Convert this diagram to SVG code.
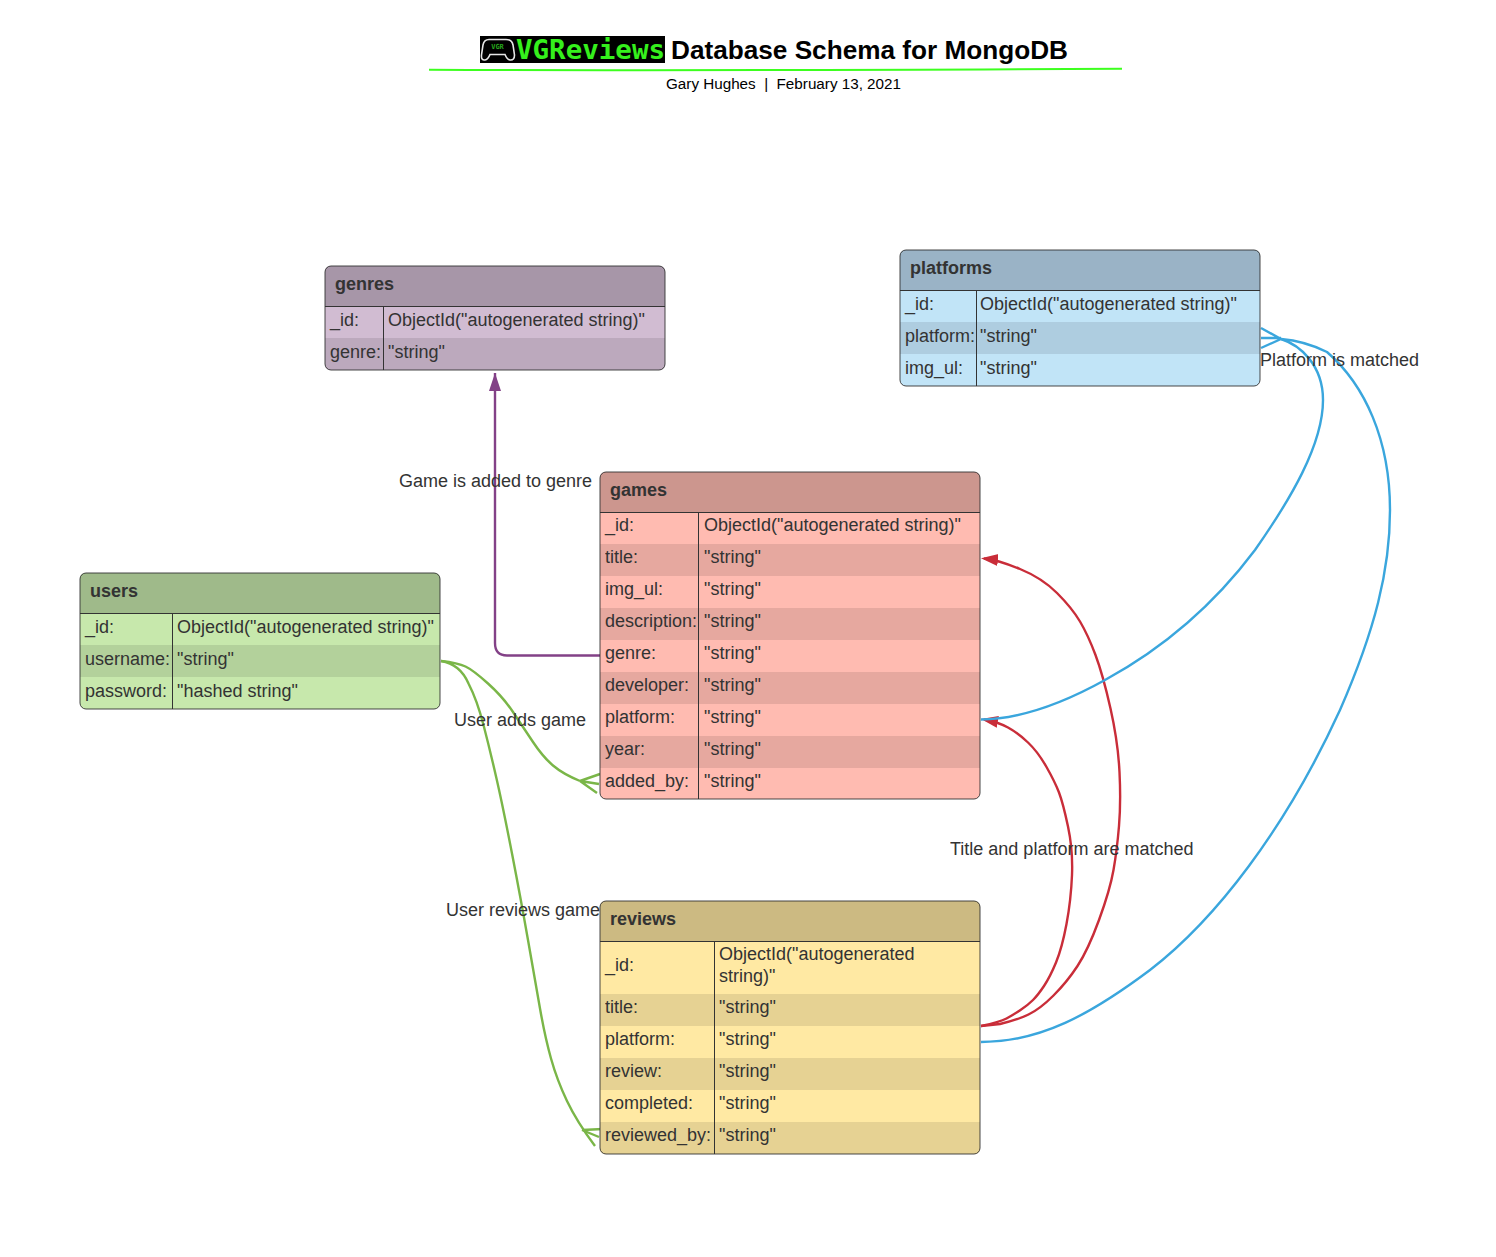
<svg xmlns="http://www.w3.org/2000/svg" width="1496" height="1257" viewBox="0 0 1496 1257">
<style>
text{font-family:"Liberation Sans",Arial,sans-serif;font-size:18px;fill:#333;opacity:.999}
.h{font-weight:700;fill:#333}
.o{fill:none;stroke:#333;stroke-width:1;opacity:.9}
.d{stroke:#333;stroke-width:1}
.c{fill:none;stroke-width:2.4}
</style>
<defs>
<marker id="purple" markerUnits="userSpaceOnUse" markerWidth="20" markerHeight="14" refX="18" refY="6" orient="auto"><path d="M0 0L18 6L0 12Z" fill="#834187"/></marker>
<marker id="red" markerUnits="userSpaceOnUse" markerWidth="20" markerHeight="14" refX="14" refY="6" orient="auto"><path d="M0 0L17 6L0 12Z" fill="#c92d39"/></marker>
</defs>
<rect width="1496" height="1257" fill="#fff"/>

<g id="title">
<rect x="480" y="36" width="185" height="27" fill="#000"/>
<path d="M489 39.500H506Q512 39.500 513 45L514.500 55Q514.500 60.500 510 60Q507 59.500 505 54.500H490Q488 59.500 485 60Q481 60.500 481.500 55L483 45Q484 39.500 489 39.500Z" fill="none" stroke="#e6e6e6" stroke-width="1.600"/>
<text x="497.500" y="48.500" text-anchor="middle" style="font-family:'DejaVu Sans Mono','Liberation Mono',monospace;font-size:7px;font-weight:700;fill:#27a61c">VGR</text>
<text x="516" y="59" textLength="149" lengthAdjust="spacingAndGlyphs" style="font-family:'DejaVu Sans Mono','Liberation Mono',monospace;font-size:26px;font-weight:700;fill:#35f01c">VGReviews</text>
<text x="671" y="59" style="font-size:26px;font-weight:700;fill:#000" textLength="397" lengthAdjust="spacingAndGlyphs">Database Schema for MongoDB</text>
<path d="M429 69.800Q700 71 1122 68.800" fill="none" stroke="#3dff1f" stroke-width="2"/>
<text x="666" y="89" style="font-size:15.200px;fill:#000" xml:space="preserve" textLength="235" lengthAdjust="spacingAndGlyphs">Gary Hughes  |  February 13, 2021</text>
</g>

<g id="connectors">
<path class="c" stroke="#834187" d="M600 655.500H507Q495 655.500 495 643V373" marker-end="url(#purple)"/>
<path class="c" stroke="#7ab648" d="M441 661Q458 663 465.500 666.500Q473 670 488 683.500Q503 697 513 712Q523 727 533 742Q543 757 553 765.500Q563 774 580 781"/>
<path class="c" stroke="#7ab648" d="M580 781L600 774M580 781L599 784M580 781L597 793"/>
<path class="c" stroke="#7ab648" d="M441 661Q460 664 468.500 683.500Q477 700 483.500 725Q490 750 496.500 778.500Q503 807 512 853.500Q521 900 528 940Q535 980 540 1008.500Q545 1037 551 1058.500Q557 1080 567 1101Q577 1122 595 1146"/>
<path class="c" stroke="#7ab648" d="M582 1130L603 1129M582 1130L599 1137"/>
<path class="c" stroke="#c92d39" d="M981 1026Q1000 1022 1006.500 1018.500Q1013 1015 1020.500 1010Q1028 1005 1033 1000Q1038 995 1044 986Q1050 977 1056 962.500Q1062 948 1066.500 924Q1071 900 1072 875Q1073 850 1068 826.500Q1063 803 1059 792.500Q1055 782 1046.500 767Q1038 752 1028 742.500Q1018 733 1008 727.500Q998 722 984 719.500" marker-end="url(#red)"/>
<path class="c" stroke="#c92d39" d="M981 1026L1000 1024Q1017 1020 1028.500 1014.500Q1040 1009 1053.500 995.500Q1067 982 1077.500 966Q1088 950 1099 920Q1110 890 1113.500 870Q1117 850 1119 826Q1121 802 1119.500 772Q1118 742 1110.500 708.500Q1103 675 1095.500 655Q1088 635 1080 621.500Q1072 608 1057 593Q1042 578 1020 569Q998 560 984 558.500" marker-end="url(#red)"/>
<path class="c" stroke="#3aa6dd" d="M1281 339C1300 345 1323 365 1323 400C1323 445 1290 500 1255 550C1210 610 1160 650 1105 680C1060 705 1020 719 981 719.500"/>
<path class="c" stroke="#3aa6dd" d="M981 1042C1040 1042 1090 1015 1150 970C1215 920 1285 830 1340 710C1375 630 1390 570 1390 510C1390 440 1365 385 1327 352Q1305 341 1281 339"/>
<path class="c" stroke="#3aa6dd" d="M1261 328L1281 339M1261 338H1281M1261 348L1281 339"/>
</g>

<g id="genres">
<rect x="325" y="266" width="340" height="104" rx="6" fill="#d1bcd2"/>
<path d="M325 306V272Q325 266 331 266H659Q665 266 665 272V306Z" fill="#a796a8"/>
<path d="M325 338H665V364Q665 370 659 370H331Q325 370 325 364Z" fill="#bca9bd"/>
<rect class="o" x="325" y="266" width="340" height="104" rx="6"/>
<path class="d" d="M325 306.500H665M383.500 306V370"/>
<text class="h" x="335" y="290">genres</text>
<text x="330" y="326">_id:</text><text x="388" y="326">ObjectId("autogenerated string)"</text>
<text x="330" y="358">genre:</text><text x="388" y="358">"string"</text>
</g>

<g id="platforms">
<rect x="900" y="250" width="360" height="136" rx="6" fill="#c1e4f7"/>
<path d="M900 290V256Q900 250 906 250H1254Q1260 250 1260 256V290Z" fill="#9ab3c6"/>
<rect x="900" y="322" width="360" height="32" fill="#aecde0"/>
<rect class="o" x="900" y="250" width="360" height="136" rx="6"/>
<path class="d" d="M900 290.500H1260M976.500 290V386"/>
<text class="h" x="910" y="274">platforms</text>
<text x="905" y="310">_id:</text><text x="980" y="310">ObjectId("autogenerated string)"</text>
<text x="905" y="342">platform:</text><text x="980" y="342">"string"</text>
<text x="905" y="374">img_ul:</text><text x="980" y="374">"string"</text>
</g>

<g id="games">
<rect x="600" y="472" width="380" height="327" rx="6" fill="#ffbbb1"/>
<path d="M600 512V478Q600 472 606 472H974Q980 472 980 478V512Z" fill="#cc968e"/>
<rect x="600" y="544" width="380" height="32" fill="#e6a89f"/>
<rect x="600" y="608" width="380" height="32" fill="#e6a89f"/>
<rect x="600" y="672" width="380" height="32" fill="#e6a89f"/>
<rect x="600" y="736" width="380" height="32" fill="#e6a89f"/>
<rect class="o" x="600" y="472" width="380" height="327" rx="6"/>
<path class="d" d="M600 512.500H980M698.500 512V799"/>
<text class="h" x="610" y="496">games</text>
<text x="605" y="531">_id:</text><text x="704" y="531">ObjectId("autogenerated string)"</text>
<text x="605" y="563">title:</text><text x="704" y="563">"string"</text>
<text x="605" y="595">img_ul:</text><text x="704" y="595">"string"</text>
<text x="605" y="627">description:</text><text x="704" y="627">"string"</text>
<text x="605" y="659">genre:</text><text x="704" y="659">"string"</text>
<text x="605" y="691">developer:</text><text x="704" y="691">"string"</text>
<text x="605" y="723">platform:</text><text x="704" y="723">"string"</text>
<text x="605" y="755">year:</text><text x="704" y="755">"string"</text>
<text x="605" y="787">added_by:</text><text x="704" y="787">"string"</text>
</g>

<g id="users">
<rect x="80" y="573" width="360" height="136" rx="6" fill="#c7e8ac"/>
<path d="M80 613V579Q80 573 86 573H434Q440 573 440 579V613Z" fill="#9fba8a"/>
<rect x="80" y="645" width="360" height="32" fill="#b3d19b"/>
<rect class="o" x="80" y="573" width="360" height="136" rx="6"/>
<path class="d" d="M80 613.500H440M172.500 613V709"/>
<text class="h" x="90" y="597">users</text>
<text x="85" y="633">_id:</text><text x="177" y="633">ObjectId("autogenerated string)"</text>
<text x="85" y="665">username:</text><text x="177" y="665">"string"</text>
<text x="85" y="697">password:</text><text x="177" y="697">"hashed string"</text>
</g>

<g id="reviews">
<rect x="600" y="901" width="380" height="253" rx="6" fill="#ffe9a3"/>
<path d="M600 941V907Q600 901 606 901H974Q980 901 980 907V941Z" fill="#ccba82"/>
<rect x="600" y="994" width="380" height="32" fill="#e6d293"/>
<rect x="600" y="1058" width="380" height="32" fill="#e6d293"/>
<path d="M600 1122H980V1148Q980 1154 974 1154H606Q600 1154 600 1148Z" fill="#e6d293"/>
<rect class="o" x="600" y="901" width="380" height="253" rx="6"/>
<path class="d" d="M600 941.500H980M714.500 941V1154"/>
<text class="h" x="610" y="925">reviews</text>
<text x="605" y="971">_id:</text><text x="719" y="960">ObjectId("autogenerated</text><text x="719" y="982">string)"</text>
<text x="605" y="1013">title:</text><text x="719" y="1013">"string"</text>
<text x="605" y="1045">platform:</text><text x="719" y="1045">"string"</text>
<text x="605" y="1077">review:</text><text x="719" y="1077">"string"</text>
<text x="605" y="1109">completed:</text><text x="719" y="1109">"string"</text>
<text x="605" y="1141">reviewed_by:</text><text x="719" y="1141">"string"</text>
</g>

<g id="labels">
<text x="399" y="487">Game is added to genre</text>
<text x="454" y="726">User adds game</text>
<text x="446" y="916">User reviews game</text>
<text x="950" y="855">Title and platform are matched</text>
<text x="1260" y="366">Platform is matched</text>
</g>
</svg>
